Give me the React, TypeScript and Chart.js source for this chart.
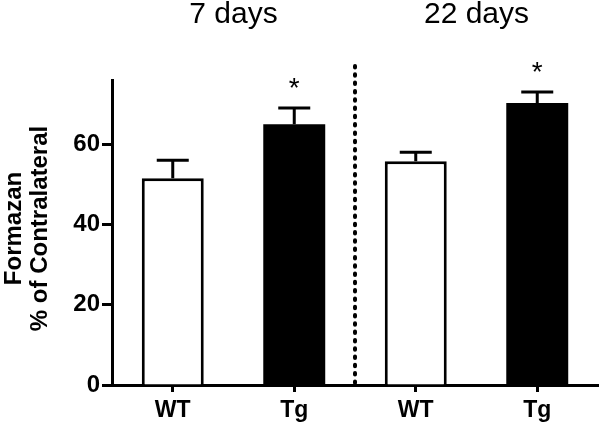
import React, { useEffect, useRef } from 'react';
import { Chart, registerables } from 'chart.js';

Chart.register(...registerables);

const categories = ['WT', 'Tg', 'WT', 'Tg'];
const means = [51.5, 65, 55.75, 70.25];
const errors = [4.5, 4, 2.25, 2.75];
const significant = [false, true, false, true];
const barColors = ['#ffffff', '#000000', '#ffffff', '#000000'];
const groupLabels = ['7 days', '22 days'];
const yTickValues = [0, 20, 40, 60];
const yMax = 76;
const yTitle = ['Formazan', '% of Contralateral'];

const FONT = '"Liberation Sans", Arial, Helvetica, sans-serif';

const decorPlugin = {
  id: 'decor',
  afterDatasetsDraw(chart: any) {
    const ctx = chart.ctx;
    const meta = chart.getDatasetMeta(0);
    const y = chart.scales.y;
    const area = chart.chartArea;
    ctx.save();
    ctx.strokeStyle = '#000';
    ctx.fillStyle = '#000';
    // error bars
    meta.data.forEach((bar: any, i: number) => {
      const x = bar.x;
      const yTop = y.getPixelForValue(means[i] + errors[i]);
      const yBar = y.getPixelForValue(means[i]);
      ctx.lineWidth = 3;
      ctx.lineCap = 'butt';
      ctx.beginPath();
      ctx.moveTo(x, yBar);
      ctx.lineTo(x, yTop);
      ctx.moveTo(x - 16, yTop);
      ctx.lineTo(x + 16, yTop);
      ctx.stroke();
      if (significant[i]) {
        ctx.font = `28px ${FONT}`;
        ctx.textAlign = 'center';
        ctx.textBaseline = 'alphabetic';
        ctx.fillText('*', x, yTop - 11);
      }
    });
    // dotted separator
    const sepX = (meta.data[1].x + meta.data[2].x) / 2;
    ctx.save();
    ctx.lineWidth = 4;
    ctx.lineCap = 'round';
    ctx.setLineDash([1.5, 6.8]);
    ctx.beginPath();
    ctx.moveTo(sepX, area.top - 14);
    ctx.lineTo(sepX, area.bottom);
    ctx.stroke();
    ctx.restore();
    // group labels
    ctx.font = `30px ${FONT}`;
    ctx.textAlign = 'center';
    ctx.textBaseline = 'alphabetic';
    groupLabels.forEach((lbl, g) => {
      const cx = (meta.data[g * 2].x + meta.data[g * 2 + 1].x) / 2;
      ctx.fillText(lbl, cx, 23);
    });
    // y title
    ctx.font = `bold 24px ${FONT}`;
    const cy = (area.top + area.bottom) / 2 - 4;
    yTitle.forEach((line, k) => {
      ctx.save();
      ctx.translate(21 + k * 26, cy);
      ctx.rotate(-Math.PI / 2);
      ctx.textAlign = 'center';
      ctx.textBaseline = 'alphabetic';
      ctx.fillText(line, 0, 0);
      ctx.restore();
    });
    ctx.restore();
  },
};

export default function App() {
  const ref = useRef<HTMLCanvasElement>(null);
  useEffect(() => {
    if (!ref.current) return;
    const chart = new Chart(ref.current, {
      type: 'bar',
      data: {
        labels: categories,
        datasets: [
          {
            data: means,
            backgroundColor: barColors,
            borderColor: '#000',
            borderWidth: [3, 0, 3, 0],
            categoryPercentage: 1,
            barPercentage: 0.51,
          },
        ],
      },
      options: {
        responsive: false,
        animation: false,
        devicePixelRatio: 1,
        layout: { padding: { top: 80, right: 2, left: 0, bottom: 0 } },
        plugins: {
          legend: { display: false },
          tooltip: { enabled: false },
          title: { display: false },
        },
        scales: {
          x: {
            type: 'category',
            offset: true,
            z: 1,
            grid: {
              display: true,
              drawOnChartArea: false,
              offset: false,
              tickLength: 7,
              tickWidth: 3,
              tickColor: '#000',
            },
            border: { display: true, color: '#000', width: 3 },
            ticks: {
              color: '#000',
              padding: 5,
              font: { size: 23, weight: 'bold', family: FONT },
            },
            afterFit(s: any) {
              s.height = 38;
            },
          },
          y: {
            type: 'linear',
            min: 0,
            max: yMax,
            z: 1,
            grid: {
              display: true,
              drawOnChartArea: false,
              tickLength: 10,
              tickWidth: 3,
              tickColor: '#000',
            },
            border: { display: true, color: '#000', width: 3 },
            ticks: {
              stepSize: 20,
              color: '#000',
              padding: 2,
              font: { size: 24, weight: 'bold', family: FONT },
            },
            afterBuildTicks(s: any) {
              s.ticks = yTickValues.map((v) => ({ value: v }));
            },
            afterFit(s: any) {
              s.width = 112;
            },
          },
        },
      },
      plugins: [decorPlugin],
    } as any);
    return () => chart.destroy();
  }, []);
  return (
    <div style={{ position: 'fixed', left: 0, top: 0, width: 600, height: 423, background: '#fff' }}>
      <canvas ref={ref} width={600} height={423} style={{ width: 600, height: 423 }} />
    </div>
  );
}
